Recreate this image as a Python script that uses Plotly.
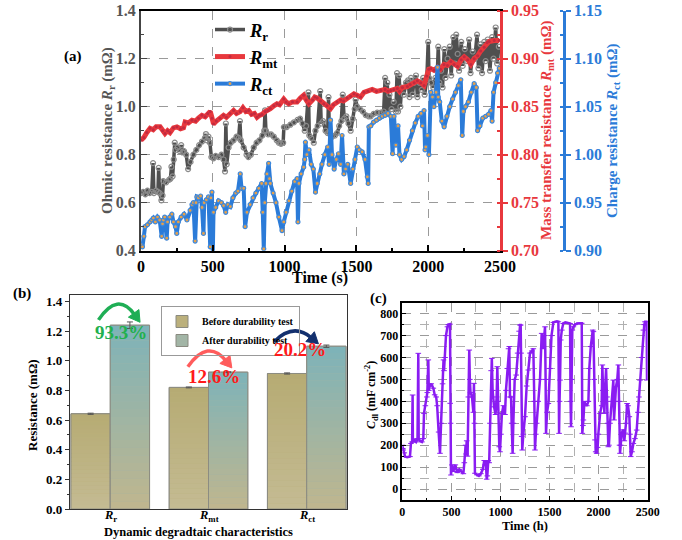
import math
import plotly.graph_objects as go

# ---------------- Panel (a) data ----------------
rr_t = [0, 15, 30, 45, 60, 75, 84, 90, 105, 118, 123, 130, 142, 150, 156, 175, 195, 205, 212, 220, 228, 235, 242, 255,
        270, 280, 290, 300, 315, 328, 345, 365, 385, 405, 425, 445, 452, 460, 470, 480, 490, 505, 520, 540, 560, 575,
        585, 591, 597, 610, 625, 645, 665, 680, 689, 695, 715, 735, 748, 765, 785, 805, 825, 845, 858, 864, 870, 885,
        905, 925, 945, 960, 975, 990, 995, 1015, 1040, 1065, 1090, 1108, 1125, 1140, 1150, 1166, 1172, 1185, 1203,
        1215, 1230, 1248, 1255, 1268, 1285, 1300, 1306, 1312, 1330, 1350, 1365, 1380, 1395, 1405, 1415, 1430, 1445,
        1460, 1475, 1488, 1495, 1505, 1525, 1545, 1565, 1585, 1600, 1620, 1645, 1670, 1690, 1700, 1708, 1715, 1722,
        1730, 1745, 1760, 1775, 1783, 1790, 1798, 1806, 1815, 1830, 1845, 1860, 1870, 1880, 1890, 1900, 1915, 1925,
        1940, 1955, 1965, 1975, 1990, 2000, 2006, 2020, 2035, 2050, 2060, 2070, 2078, 2090, 2100, 2112, 2120, 2135,
        2150, 2160, 2175, 2185, 2195, 2205, 2215, 2230, 2240, 2255, 2270, 2285, 2295, 2310, 2325, 2340, 2350, 2365,
        2375, 2390, 2400, 2415, 2430, 2445, 2455, 2470, 2480, 2492]
rr_v = [0.64, 0.645, 0.635, 0.65, 0.64, 0.645, 0.765, 0.64, 0.65, 0.645, 0.745, 0.64, 0.61, 0.63, 0.69, 0.685, 0.695,
        0.70, 0.75, 0.71, 0.78, 0.85, 0.82, 0.83, 0.815, 0.84, 0.81, 0.815, 0.80, 0.74, 0.77, 0.80, 0.82, 0.84, 0.855,
        0.87, 0.886, 0.86, 0.875, 0.85, 0.79, 0.785, 0.795, 0.79, 0.80, 0.78, 0.73, 0.93, 0.76, 0.83, 0.85, 0.86, 0.875,
        0.87, 0.94, 0.86, 0.83, 0.80, 0.79, 0.80, 0.83, 0.85, 0.86, 0.88, 0.90, 0.985, 0.90, 0.885, 0.885, 0.875, 0.86,
        0.85, 0.845, 0.85, 0.915, 0.915, 0.925, 0.935, 0.945, 0.95, 0.93, 0.90, 0.92, 1.06, 0.88, 0.87, 0.85, 0.90,
        0.92, 1.065, 0.93, 0.94, 0.90, 0.89, 1.04, 0.89, 0.875, 0.88, 0.89, 0.92, 0.94, 1.05, 0.95, 0.96, 0.93, 0.90,
        0.95, 0.99, 1.03, 1.00, 0.99, 0.98, 0.965, 0.96, 0.96, 0.97, 0.975, 0.975, 0.98, 1.12, 0.97, 1.10, 0.97, 1.05,
        0.99, 1.02, 0.98, 1.14, 0.98, 1.13, 1.00, 1.08, 1.05, 1.10, 1.11, 1.04, 1.12, 1.05, 1.10, 1.13, 1.04, 1.10,
        1.07, 1.12, 1.05, 1.11, 1.27, 1.12, 1.10, 1.08, 1.12, 1.08, 1.25, 1.10, 1.15, 1.08, 1.24, 1.12, 1.20, 1.25,
        1.13, 1.29, 1.18, 1.30, 1.22, 1.15, 1.27, 1.17, 1.24, 1.19, 1.28, 1.14, 1.23, 1.20, 1.30, 1.16, 1.26, 1.14,
        1.27, 1.19, 1.28, 1.15, 1.29, 1.20, 1.33, 1.18, 1.25]

rmt_t = [0, 20, 40, 63, 85, 105, 133, 150, 167, 185, 202, 226, 250, 275, 296, 307, 330, 355, 380, 400, 424, 447, 465,
         482, 495, 505, 525, 550, 575, 595, 620, 645, 665, 691, 710, 730, 750, 770, 790, 808, 825, 843, 865, 885, 901,
         925, 947, 965, 994, 1010, 1029, 1055, 1087, 1110, 1133, 1150, 1169, 1195, 1210, 1227, 1250, 1273, 1295, 1320,
         1340, 1365, 1390, 1410, 1436, 1460, 1483, 1505, 1529, 1553, 1580, 1610, 1640, 1670, 1700, 1720, 1739, 1760,
         1785, 1800, 1820, 1855, 1875, 1902, 1925, 1948, 1971, 1990, 2004, 2018, 2040, 2065, 2085, 2110, 2134, 2158,
         2180, 2204, 2230, 2251, 2275, 2297, 2320, 2344, 2365, 2390, 2410, 2425, 2460, 2495]
rmt_v = [0.815, 0.818, 0.823, 0.8275, 0.826, 0.829, 0.829, 0.825, 0.822, 0.825, 0.823, 0.828, 0.829, 0.827, 0.828,
         0.834, 0.833, 0.836, 0.835, 0.838, 0.841, 0.8395, 0.843, 0.845, 0.838, 0.832, 0.835, 0.838, 0.841, 0.839,
         0.843, 0.846, 0.843, 0.845, 0.849, 0.845, 0.846, 0.842, 0.843, 0.839, 0.841, 0.842, 0.845, 0.846, 0.848,
         0.851, 0.853, 0.852, 0.858, 0.855, 0.853, 0.855, 0.855, 0.859, 0.862, 0.857, 0.853, 0.857, 0.860, 0.859,
         0.856, 0.853, 0.851, 0.848, 0.852, 0.855, 0.857, 0.856, 0.859, 0.861, 0.8635, 0.862, 0.860, 0.865, 0.866,
         0.868, 0.866, 0.867, 0.868, 0.866, 0.867, 0.868, 0.869, 0.866, 0.870, 0.871, 0.873, 0.875, 0.877, 0.875,
         0.872, 0.882, 0.889, 0.8897, 0.888, 0.891, 0.889, 0.894, 0.893, 0.897, 0.894, 0.892, 0.899, 0.902, 0.899,
         0.894, 0.900, 0.903, 0.908, 0.912, 0.917, 0.918, 0.919, 0.919]

rct_t = [0, 10, 20, 28, 45, 63, 75, 86, 100, 115, 130, 144, 150, 156, 165, 179, 185, 200, 215, 226, 240, 249, 260, 280,
         300, 320, 342, 355, 365, 377, 383, 389, 400, 415, 425, 435, 440, 455, 470, 482, 487, 494, 500, 505, 520, 540,
         560, 575, 590, 605, 622, 640, 660, 675, 691, 700, 715, 725, 738, 760, 780, 800, 820, 840, 848, 855, 862, 870,
         877, 889, 895, 901, 920, 940, 960, 982, 994, 1010, 1030, 1050, 1070, 1087, 1093, 1100, 1115, 1133, 1140,
         1145, 1155, 1170, 1185, 1200, 1215, 1227, 1245, 1260, 1280, 1300, 1310, 1320, 1330, 1345, 1360, 1375, 1390,
         1400, 1413, 1425, 1440, 1460, 1475, 1490, 1506, 1520, 1540, 1560, 1576, 1582, 1587, 1600, 1620, 1640, 1660,
         1680, 1700, 1720, 1740, 1752, 1762, 1775, 1790, 1800, 1815, 1832, 1850, 1870, 1890, 1910, 1930, 1950, 1960,
         1971, 1978, 1983, 1995, 2005, 2018, 2030, 2040, 2055, 2065, 2070, 2080, 2095, 2111, 2130, 2150, 2170, 2190,
         2210, 2227, 2237, 2245, 2260, 2280, 2300, 2320, 2335, 2344, 2360, 2380, 2400, 2420, 2437, 2445, 2455, 2470,
         2483, 2495]
rct_v = [0.906, 0.904, 0.915, 0.925, 0.927, 0.93, 0.932, 0.934, 0.93, 0.935, 0.932, 0.915, 0.928, 0.932, 0.935, 0.913,
         0.93, 0.935, 0.938, 0.93, 0.925, 0.918, 0.93, 0.935, 0.938, 0.932, 0.942, 0.948, 0.95, 0.91, 0.95, 0.956,
         0.955, 0.957, 0.945, 0.918, 0.95, 0.953, 0.956, 0.904, 0.955, 0.961, 0.897, 0.94, 0.945, 0.952, 0.95, 0.947,
         0.94, 0.948, 0.946, 0.955, 0.96, 0.962, 0.98, 0.965, 0.965, 0.925, 0.94, 0.948, 0.955, 0.96, 0.965, 0.97,
         0.94, 0.902, 0.95, 0.97, 0.98, 0.991, 0.975, 0.97, 0.96, 0.95, 0.935, 0.921, 0.93, 0.94, 0.952, 0.962, 0.972,
         0.975, 0.93, 0.97, 0.98, 0.987, 0.995, 1.013, 1.0, 1.005, 0.99, 0.985, 0.961, 0.97, 0.98, 0.99, 1.0, 1.008,
         0.99, 1.036, 1.0, 0.985, 0.995, 1.001, 0.99, 1.02, 0.98, 0.985, 0.99, 0.97, 0.985, 0.995, 1.008, 1.005, 1.003,
         0.995, 0.977, 0.97, 1.029, 1.03, 1.034, 1.036, 1.038, 1.04, 1.041, 1.043, 1.04, 1.001, 1.04, 1.01, 1.03, 1.0,
         0.995, 0.998, 1.005, 1.015, 1.025, 1.033, 1.04, 1.043, 1.03, 1.046, 1.005, 1.008, 1.02, 1.0, 1.065, 1.06,
         1.05, 1.065, 1.091, 1.06, 1.055, 1.035, 1.029, 1.04, 1.05, 1.058, 1.065, 1.072, 1.078, 1.02, 1.045, 1.05,
         1.055, 1.065, 1.074, 1.07, 1.025, 1.03, 1.038, 1.04, 1.042, 1.046, 1.035, 1.065, 1.075, 1.085, 1.09]

# ---------------- Panel (b) data ----------------
bar_cats = ["<i>R</i><sub>r</sub>", "<i>R</i><sub>mt</sub>", "<i>R</i><sub>ct</sub>"]
bar_pos = [0, 1, 2]
before_vals = [0.643, 0.821, 0.915]
after_vals = [1.241, 0.924, 1.099]
before_err = [0.004, 0.003, 0.004]
after_err = [0.022, 0.003, 0.008]
pct_labels = ["93.3%", "12.6%", "20.2%"]

# ---------------- Panel (c) data ----------------
cdl_t = [0, 5, 10, 20, 27, 50, 78, 88, 100, 105, 108, 120, 140, 155, 163, 167, 180, 200, 214, 221, 235, 250, 255, 265,
         270, 280, 295, 316, 330, 345, 355, 370, 384, 395, 410, 420, 425, 435, 445, 460, 469, 486, 488, 492, 496, 505,
         520, 540, 560, 580, 600, 622, 632, 645, 650, 656, 665, 673, 682, 688, 695, 710, 724, 730, 735, 740, 760, 780,
         800, 820, 835, 843, 850, 860, 866, 876, 885, 893, 905, 912, 920, 935, 950, 961, 968, 975, 988, 995, 1005,
         1015, 1030, 1046, 1056, 1070, 1082, 1090, 1097, 1108, 1114, 1124, 1131, 1145, 1160, 1175, 1190, 1200, 1206,
         1210, 1216, 1222, 1233, 1250, 1267, 1284, 1301, 1320, 1335, 1345, 1352, 1360, 1369, 1385, 1403, 1420, 1430,
         1437, 1445, 1454, 1460, 1464, 1475, 1488, 1505, 1520, 1539, 1556, 1575, 1590, 1597, 1602, 1607, 1614, 1625,
         1640, 1660, 1680, 1700, 1709, 1714, 1719, 1725, 1732, 1743, 1760, 1780, 1800, 1820, 1828, 1834, 1840, 1845,
         1855, 1862, 1880, 1896, 1905, 1920, 1940, 1947, 1955, 1963, 1970, 1980, 1990, 1997, 2015, 2031, 2038, 2045,
         2052, 2059, 2065, 2076, 2085, 2092, 2099, 2105, 2116, 2130, 2150, 2157, 2165, 2177, 2190, 2201, 2208, 2213,
         2218, 2225, 2235, 2250, 2262, 2269, 2279, 2290, 2300, 2313, 2320, 2327, 2340, 2354, 2370, 2388, 2400, 2410,
         2422, 2440, 2456, 2465, 2473, 2490, 2493]
cdl_v = [200, 185, 178, 165, 148, 145, 148, 208, 215, 429, 215, 225, 215, 230, 619, 230, 220, 215, 230, 345, 380, 420,
         440, 589, 450, 470, 480, 460, 430, 420, 380, 260, 163, 300, 480, 589, 540, 600, 700, 740, 750, 752, 391, 300,
         64, 110, 80, 110, 75, 90, 80, 70, 120, 200, 160, 220, 150, 420, 634, 500, 440, 420, 350, 482, 300, 72, 65, 60,
         70, 90, 130, 110, 130, 45, 60, 130, 120, 300, 540, 596, 450, 375, 340, 420, 558, 400, 193, 170, 250, 345, 380,
         340, 450, 550, 640, 650, 420, 420, 300, 163, 300, 500, 520, 620, 720, 748, 748, 620, 240, 178, 250, 330, 470,
         543, 620, 630, 640, 400, 178, 250, 300, 400, 500, 710, 640, 650, 700, 740, 500, 254, 350, 390, 550, 700, 760,
         763, 765, 763, 254, 400, 497, 680, 725, 755, 760, 757, 755, 755, 400, 284, 500, 725, 740, 750, 755, 757, 756,
         756, 254, 290, 315, 400, 390, 380, 400, 550, 650, 725, 718, 500, 224, 170, 163, 190, 250, 345, 380, 566, 450,
         400, 345, 450, 550, 420, 300, 193, 200, 300, 400, 497, 315, 400, 467, 500, 566, 400, 200, 163, 200, 255, 270,
         220, 255, 300, 390, 380, 330, 250, 148, 170, 208, 230, 269, 350, 420, 497, 600, 725, 750, 763, 763, 497]

SER = "Liberation Serif"
W, H = 682, 540


def px(xp):
    return xp / W


def py(yp):
    return 1 - yp / H


def bfont(size, color="black"):
    return dict(family=SER, size=size, color=color, weight="bold")


fig = go.Figure()

# ---- Panel (a) traces ----
fig.add_trace(go.Scatter(
    x=rr_t, y=rr_v, mode="lines+markers", name="<i>R</i><sub>r</sub>",
    line=dict(color="#4f4f4f", width=3.5),
    marker=dict(symbol="circle-open", size=5, color="#8a8a8a", line=dict(width=1.2)),
    xaxis="x", yaxis="y", legend="legend"))
fig.add_trace(go.Scatter(
    x=rmt_t, y=rmt_v, mode="lines+markers", name="<i>R</i><sub>mt</sub>",
    line=dict(color="#e8383d", width=5),
    marker=dict(symbol="circle", size=3, color="#c22a40"),
    xaxis="x", yaxis="y2", legend="legend"))
fig.add_trace(go.Scatter(
    x=rct_t, y=rct_v, mode="lines+markers", name="<i>R</i><sub>ct</sub>",
    line=dict(color="#2b7bd8", width=4),
    marker=dict(symbol="circle", size=4, color="#e8a048", line=dict(color="#3d88dc", width=1.2)),
    xaxis="x", yaxis="y3", legend="legend"))


# ---- Panel (b) traces ----
def lerp(c1, c2, f):
    a = [int(c1[i:i + 2], 16) for i in (1, 3, 5)]
    b = [int(c2[i:i + 2], 16) for i in (1, 3, 5)]
    return "rgb(%d,%d,%d)" % tuple(round(a[k] + (b[k] - a[k]) * f) for k in range(3))


N = 24
groups = [
    (before_vals, before_err, -0.4, "#c4bb93", "#b6ab73", "#bbb07c", "Before durability test"),
    (after_vals, after_err, 0.0, "#c0b68e", "#7db3b9", "#a2b5a6", "After durability test"),
]
for vals, errs, off, cbot, ctop, cmid, nm in groups:
    fig.add_trace(go.Bar(
        x=bar_pos, y=vals, offset=off, width=0.4, name=nm,
        marker=dict(color=cmid, line=dict(color="#8a8a80", width=1)),
        xaxis="x2", yaxis="y4", legend="legend2", hoverinfo="skip"))
    for k in range(N):
        fig.add_trace(go.Bar(
            x=bar_pos, y=[v / N for v in vals], base=[v * k / N for v in vals],
            offset=off, width=0.4, showlegend=False,
            marker=dict(color=lerp(cbot, ctop, (k + 0.5) / N), line=dict(width=0)),
            xaxis="x2", yaxis="y4", hoverinfo="skip"))
    fig.add_trace(go.Bar(
        x=bar_pos, y=vals, offset=off, width=0.4, showlegend=False,
        marker=dict(color="rgba(0,0,0,0)", line=dict(color="#8c8c82", width=1)),
        error_y=dict(type="data", array=errs, color="#555555", thickness=1, width=3),
        xaxis="x2", yaxis="y4", hoverinfo="skip"))

# ---- Panel (c) trace ----
fig.add_trace(go.Scatter(
    x=cdl_t, y=cdl_v, mode="lines+markers", showlegend=False,
    line=dict(color="#8a1cf2", width=2.5),
    marker=dict(symbol="line-ew", size=4, color="#8a1cf2", line=dict(color="#8a1cf2", width=1)),
    xaxis="x3", yaxis="y5"))

grid_dash = dict(showgrid=True, gridcolor="#9a9a9a", griddash="dash", gridwidth=1)

fig.update_layout(
    template="plotly_white",
    width=W, height=H, margin=dict(l=0, r=0, t=0, b=0, autoexpand=False),
    paper_bgcolor="white", plot_bgcolor="white",
    barmode="overlay", showlegend=True,
    font=dict(family=SER, color="black"),
    xaxis=dict(domain=[px(141), px(500)], range=[0, 2500], anchor="y", automargin=False,
               tickvals=[0, 500, 1000, 1500, 2000, 2500], ticks="inside", ticklen=6, tickwidth=1.5,
               tickcolor="black", minor=dict(dtick=250, ticks="inside", ticklen=3, tickcolor="black"),
               showline=True, linecolor="black", linewidth=2, mirror=True,
               tickfont=bfont(16), zeroline=False, **grid_dash),
    yaxis=dict(domain=[py(250.7), py(10.7)], range=[0.4, 1.4], anchor="x", automargin=False,
               tickvals=[0.4, 0.6, 0.8, 1.0, 1.2, 1.4], tickformat=".1f", ticks="inside", ticklen=6,
               tickcolor="#444", minor=dict(dtick=0.1, ticks="inside", ticklen=3, tickcolor="#444"),
               showline=True, linecolor="#444", linewidth=2,
               tickfont=bfont(16, "#555"), zeroline=False, **grid_dash),
    yaxis2=dict(overlaying="y", side="right", anchor="x", range=[0.70, 0.95], automargin=False,
                tickvals=[0.70, 0.75, 0.80, 0.85, 0.90, 0.95], tickformat=".2f", ticks="outside", ticklen=5,
                tickcolor="#e8383d", tickwidth=1.5,
                minor=dict(dtick=0.025, ticks="inside", ticklen=3, tickcolor="#e8383d"),
                showline=True, linecolor="#e8383d", linewidth=2.5, showgrid=False, zeroline=False,
                tickfont=bfont(16, "#e8383d")),
    yaxis3=dict(overlaying="y", side="right", anchor="free", position=px(564), range=[0.90, 1.15],
                automargin=False,
                tickvals=[0.90, 0.95, 1.00, 1.05, 1.10, 1.15], tickformat=".2f", ticks="outside", ticklen=5,
                tickcolor="#2b7bd8", tickwidth=1.5,
                minor=dict(dtick=0.025, ticks="inside", ticklen=3, tickcolor="#2b7bd8"),
                showline=True, linecolor="#2b7bd8", linewidth=2.5, showgrid=False, zeroline=False,
                tickfont=bfont(16, "#2b7bd8")),
    xaxis2=dict(domain=[px(70), px(347)], range=[-0.41, 2.41], anchor="y4", automargin=False,
                tickvals=bar_pos, showticklabels=False, ticks="", showgrid=False, zeroline=False,
                showline=True, linecolor="#333", linewidth=1.2, mirror=True),
    yaxis4=dict(domain=[py(509), py(295)], range=[0, 1.445], anchor="x2", automargin=False,
                tickvals=[0, 0.2, 0.4, 0.6, 0.8, 1.0, 1.2, 1.4], tickformat=".1f", ticks="outside",
                ticklen=4, tickcolor="#333", minor=dict(dtick=0.1, ticks="outside", ticklen=2, tickcolor="#333"),
                showline=True, linecolor="#333", linewidth=1.2, mirror=True, showgrid=False, zeroline=False,
                tickfont=bfont(13)),
    xaxis3=dict(domain=[px(402.3), px(647.7)], range=[0, 2500], anchor="y5", automargin=False,
                tickvals=[0, 500, 1000, 1500, 2000, 2500], ticks="inside", ticklen=4, tickcolor="black",
                minor=dict(dtick=250, ticks="inside", ticklen=2, showgrid=True, gridcolor="#b0b0b0",
                           griddash="dash", gridwidth=1),
                showline=True, linecolor="black", linewidth=1.5, mirror=True, zeroline=False,
                tickfont=bfont(12), showgrid=True, gridcolor="#9a9a9a", griddash="dash", gridwidth=1),
    yaxis5=dict(domain=[py(500), py(302.7)], range=[-50, 850], anchor="x3", automargin=False,
                tickvals=[0, 100, 200, 300, 400, 500, 600, 700, 800], ticks="inside", ticklen=4,
                tickcolor="black",
                minor=dict(dtick=50, ticks="inside", ticklen=2, showgrid=True, gridcolor="#b0b0b0",
                           griddash="dash", gridwidth=1),
                showline=True, linecolor="black", linewidth=1.5, mirror=True, zeroline=False,
                tickfont=bfont(12), showgrid=True, gridcolor="#9a9a9a", griddash="dash", gridwidth=1),
    legend=dict(x=px(210), y=py(11), xanchor="left", yanchor="top", bgcolor="rgba(0,0,0,0)",
                font=bfont(18.5), tracegroupgap=0, itemwidth=30),
    legend2=dict(x=px(161), y=py(306), xanchor="left", yanchor="top", bgcolor="rgba(255,255,255,0)",
                 bordercolor="#999", borderwidth=1, font=bfont(10),
                 itemwidth=30, tracegroupgap=0),
)

ann = []


def A(text, x, y, size, color="black", angle=0):
    ann.append(dict(text=text, x=x, y=y, xref="paper", yref="paper", showarrow=False,
                    font=bfont(size, color), textangle=angle,
                    xanchor="center", yanchor="middle"))


A("(a)", px(73), py(57), 15)
A("(b)", px(22), py(293), 15)
A("(c)", px(379), py(298), 15)
A("Time (s)", px(320), py(278), 16)
A("Ohmic resistance <i>R</i><sub>r</sub> (mΩ)", px(108), py(131), 15, "#555555", -90)
A("Mass transfer resistance <i>R</i><sub>mt</sub> (mΩ)", px(547), py(130), 15, "#e8383d", -90)
A("Charge resistance <i>R</i><sub>ct</sub> (mΩ)", px(613), py(131), 15, "#2b7bd8", -90)
A("Resistance (mΩ)", px(32), py(405), 13, "black", -90)
A("Dynamic degradtaic characteristics", px(198), py(532), 12.5)
A("<i>C</i><sub>dl</sub> (mF cm<sup>-2</sup>)", px(371), py(395), 12, "black", -90)
A("Time (h)", px(525), py(526), 12.5)

# category labels of panel (b)
for xc, lab in zip(bar_pos, bar_cats):
    ann.append(dict(text=lab, x=xc, y=py(516), xref="x2", yref="paper", showarrow=False,
                    font=bfont(12.5), xanchor="center", yanchor="middle"))

# percentage labels in panel (b) data coordinates
pct_xy = [(0.11, 1.19, "#22b04e"), (1.056, 0.894, "#ff1a1a"), (1.93, 1.074, "#ff1a1a")]
for lab, (xx, yy, col) in zip(pct_labels, pct_xy):
    ann.append(dict(text=lab, x=xx, y=yy, xref="x2", yref="y4", showarrow=False,
                    font=bfont(19, col), xanchor="center", yanchor="middle"))

# curved arrows (decorations)
SX, SY = 98.5, 148.0  # pixels per data unit on x2 / y4
arcs = [((-0.12, 1.277), (0.075, 1.472), (0.25, 1.31), "#1fae55"),
        ((0.79, 0.96), (0.993, 1.153), (1.18, 1.0), "#ff5c5c"),
        ((1.668, 1.13), (1.866, 1.261), (2.05, 1.155), "#13306e")]
shapes = []
for (x0, y0), (xc, yc), (x1, y1), col in arcs:
    shapes.append(dict(type="path", xref="x2", yref="y4",
                       path="M %f,%f Q %f,%f %f,%f" % (x0, y0, xc, yc, x1, y1),
                       line=dict(color=col, width=3.5)))
    ux, uy = (x1 - xc) * SX, (y1 - yc) * SY
    L = math.hypot(ux, uy)
    ux, uy = ux / L, uy / L
    nx, ny = -uy, ux
    tip = (x1 + ux * 9 / SX, y1 + uy * 9 / SY)
    b1 = (x1 - ux * 2 / SX + nx * 6.5 / SX, y1 - uy * 2 / SY + ny * 6.5 / SY)
    b2 = (x1 - ux * 2 / SX - nx * 6.5 / SX, y1 - uy * 2 / SY - ny * 6.5 / SY)
    shapes.append(dict(type="path", xref="x2", yref="y4",
                       path="M %f,%f L %f,%f L %f,%f Z" % (tip[0], tip[1], b1[0], b1[1], b2[0], b2[1]),
                       fillcolor=col, line=dict(color=col, width=1)))

fig.update_layout(annotations=ann, shapes=shapes)

fig.write_html("out.html", config={"displayModeBar": False},
               post_script="document.body.style.margin='0px';")
